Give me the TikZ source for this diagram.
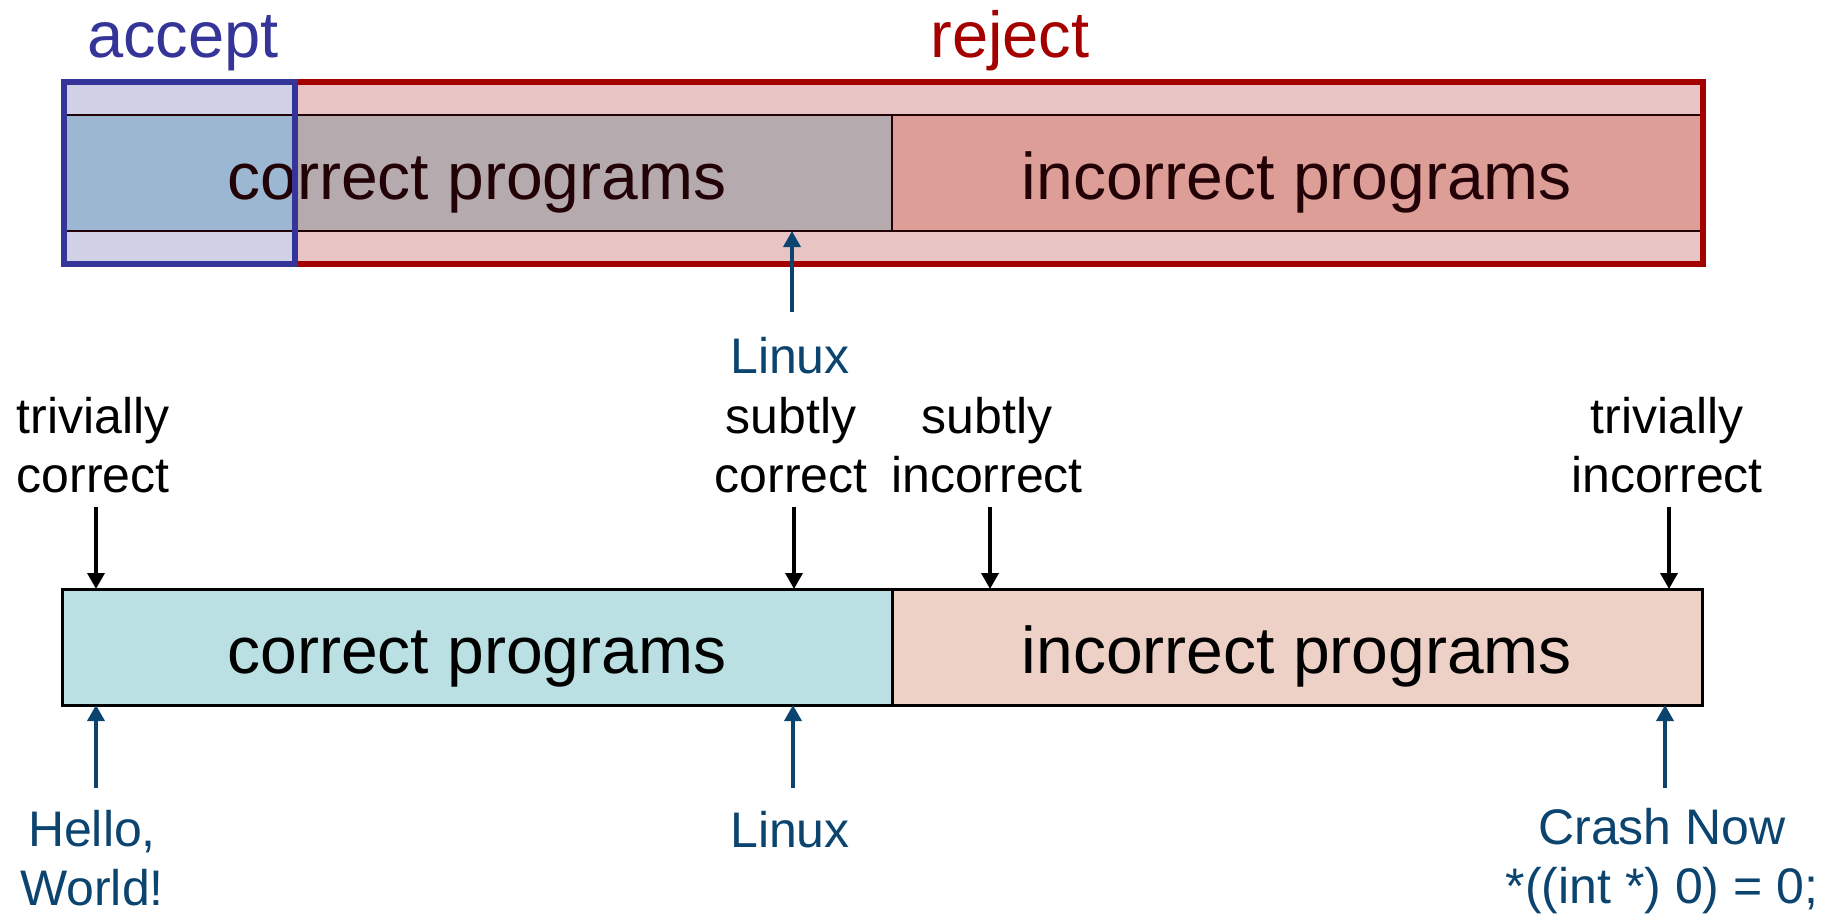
\documentclass[tikz,border=0pt]{standalone}
\usepackage{fontspec}
\setmainfont{Liberation Sans}
\usetikzlibrary{arrows.meta}

\definecolor{acceptblue}{RGB}{53,53,153}
\definecolor{rejectred}{RGB}{165,0,0}
\definecolor{labelblue}{RGB}{12,68,112}
\definecolor{accband}{RGB}{208,208,230}
\definecolor{rejband}{RGB}{232,196,196}
\definecolor{accinner}{RGB}{155,183,210}
\definecolor{rejcorrect}{RGB}{181,170,173}
\definecolor{rejincorrect}{RGB}{222,158,152}
\definecolor{lowcorrect}{RGB}{186,224,227}
\definecolor{lowincorrect}{RGB}{237,209,198}
\definecolor{bartext}{RGB}{34,2,6}

\begin{document}
\begin{tikzpicture}[x=1pt,y=-1pt,
  bigtext/.style={font=\fontsize{66}{79}\selectfont, inner sep=0pt, anchor=base},
  headtext/.style={font=\fontsize{65}{78}\selectfont, inner sep=0pt, anchor=base},
  lbl/.style={font=\fontsize{50}{59}\selectfont, inner sep=0pt, align=center, anchor=base},
  segbox/.style={draw=none, inner sep=0pt, outer sep=0pt},
  lowbox/.style={draw=black, line width=3pt, inner sep=0pt, outer sep=0pt},
  darr/.style={line width=3.5pt, -{Triangle[length=16pt,width=17pt]}},
  blkarr/.style={darr, black},
  bluarr/.style={darr, labelblue}
]
\useasboundingbox (0,0) rectangle (1825,913);

% ---------- upper bar: accept / reject split ----------
\fill[rejband] (295,82) rectangle (1703,264);
\fill[accband] (64,82) rectangle (295,264);
\node[segbox, fill=rejcorrect, minimum width=597pt, minimum height=116pt] (topC) at (593.5,173) {};
\node[segbox, fill=accinner, minimum width=231pt, minimum height=116pt] (topA) at (179.5,173) {};
\node[segbox, fill=rejincorrect, minimum width=811pt, minimum height=116pt] (topI) at (1297.5,173) {};
\draw[bartext, line width=2.5pt] (topA.north west) -- (topI.north east)
  (topA.south west) -- (topI.south east)
  (topI.north west) -- (topI.south west);
\node[bigtext, text=bartext] (topCt) at (477,199) {correct programs};
\node[bigtext, text=bartext] (topIt) at (1297,199) {incorrect programs};
\node[segbox, draw=rejectred, line width=6pt, minimum width=1408pt, minimum height=182pt] (rej) at (999,173) {};
\node[segbox, draw=acceptblue, line width=6pt, minimum width=231pt, minimum height=182pt] (acc) at (179.5,173) {};
\node[headtext, text=acceptblue] (acct) at (183,57) {accept};
\node[headtext, text=rejectred] (rejt) at (1010,57) {reject};

% ---------- lower bar ----------
\node[lowbox, fill=lowcorrect, minimum width=830pt, minimum height=116pt] (lowC) at (477,647) {};
\node[lowbox, fill=lowincorrect, minimum width=810pt, minimum height=116pt] (lowI) at (1297,647) {};
\node[bigtext] (lowCt) at (477,673) {correct programs};
\node[bigtext] (lowIt) at (1297,673) {incorrect programs};

% ---------- labels above the lower bar (base = last line) ----------
\node[lbl] (tc) at (93,492) {trivially\\correct};
\node[lbl] (sc) at (791,492) {subtly\\correct};
\node[lbl, text=labelblue] (linuxTop) at (790,373) {Linux};
\node[lbl] (si) at (987,492) {subtly\\incorrect};
\node[lbl] (ti) at (1667,492) {trivially\\incorrect};

\coordinate (tcA) at (96,507);
\coordinate (scA) at (794,507);
\coordinate (siA) at (990,507);
\coordinate (tiA) at (1669,507);
\draw[blkarr] (tcA) -- (tcA |- lowC.north);
\draw[blkarr] (scA) -- (scA |- lowC.north);
\draw[blkarr] (siA) -- (siA |- lowI.north);
\draw[blkarr] (tiA) -- (tiA |- lowI.north);

\coordinate (ltA) at (792,312);
\draw[bluarr] (ltA) -- (ltA |- topC.south);

% ---------- labels below the lower bar ----------
\node[lbl, text=labelblue] (hw) at (92,905) {Hello,\\World!};
\node[lbl, text=labelblue] (linuxLow) at (790,847) {Linux};
\node[lbl, text=labelblue] (crash) at (1662,903) {Crash Now\\*((int *) 0) = 0;};

\coordinate (hwA) at (96,788);
\coordinate (lxA) at (793,788);
\coordinate (crA) at (1665,788);
\draw[bluarr] (hwA) -- (hwA |- lowC.south);
\draw[bluarr] (lxA) -- (lxA |- lowC.south);
\draw[bluarr] (crA) -- (crA |- lowI.south);
\end{tikzpicture}
\end{document}
